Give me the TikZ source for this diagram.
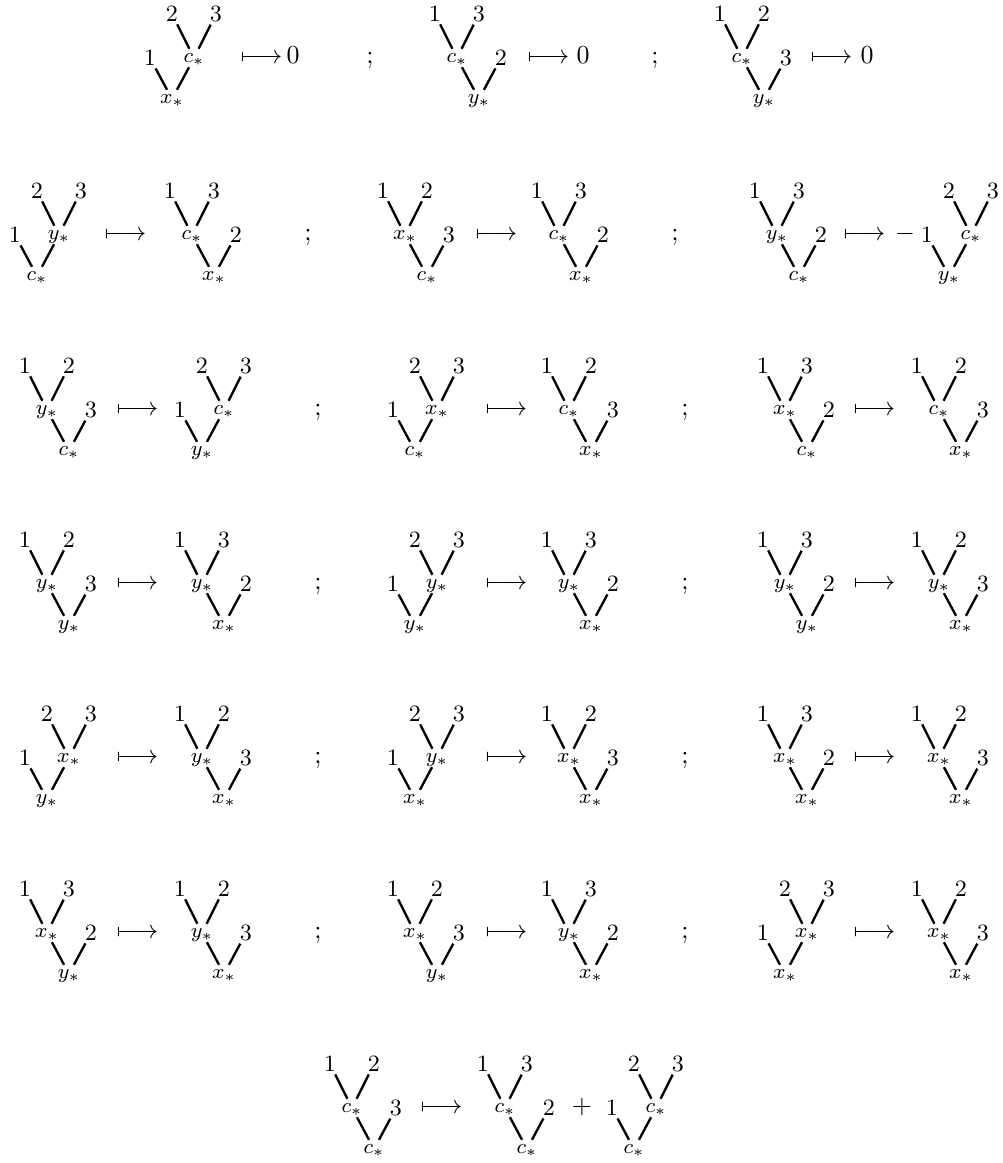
\documentclass[tikz,border=0pt]{standalone}
\usepackage{amsmath,amssymb}
\usepackage{tikz}

\tikzset{
  leaf/.style={font=\small, inner sep=0.8pt},
  vert/.style={font=\footnotesize, inner sep=0.6pt, text height=4.5pt, text depth=1pt},
  edge/.style={line width=0.9pt},
  sym/.style={anchor=mid, inner sep=0pt},
  arr/.style={anchor=mid west, inner sep=0pt}
}

% comb: side leaf #4, vertex #7 carrying leaves #5 #6, root #8
\newcommand{\lcomb}[8]{%
  \node[leaf] (#1a) at (#2,#3) {#4};
  \node[vert] (#1u) at (#2+44,#3) {$#7$};
  \node[leaf] (#1b) at (#2+22,#3-44) {#5};
  \node[leaf] (#1c) at (#2+66,#3-44) {#6};
  \node[vert] (#1r) at (#2+22,#3+41) {$#8$};
  \draw[edge] (#1b) -- (#1u) -- (#1c);
  \draw[edge] (#1a) -- (#1r) -- (#1u);
}
% comb: vertex #7 carrying leaves #4 #5, side leaf #6, root #8
\newcommand{\rcomb}[8]{%
  \node[vert] (#1u) at (#2+22,#3) {$#7$};
  \node[leaf] (#1a) at (#2,#3-44) {#4};
  \node[leaf] (#1b) at (#2+44,#3-44) {#5};
  \node[leaf] (#1c) at (#2+66,#3) {#6};
  \node[vert] (#1r) at (#2+44,#3+41) {$#8$};
  \draw[edge] (#1a) -- (#1u) -- (#1b);
  \draw[edge] (#1u) -- (#1r) -- (#1c);
}

\begin{document}
\begin{tikzpicture}[x=0.385pt, y=-0.385pt]
\useasboundingbox (0,0) rectangle (1003,1163);

% Row 1: trees sent to zero
\lcomb{p1}{150}{58}{1}{2}{3}{c_*}{x_*}
\node[arr] (pa1) at (240,58) {$\longmapsto$};
\node[sym] (pz1) at (293,58) {$0$};
\node[sym] (ps1) at (370,58) {$;$};
\rcomb{p2}{435}{58}{1}{3}{2}{c_*}{y_*}
\node[arr] (pa2) at (527,58) {$\longmapsto$};
\node[sym] (pz2) at (583,58) {$0$};
\node[sym] (ps2) at (655,58) {$;$};
\rcomb{p3}{720}{58}{1}{2}{3}{c_*}{y_*}
\node[arr] (pa3) at (810,58) {$\longmapsto$};
\node[sym] (pz3) at (867,58) {$0$};

% Row 2
\lcomb{q1}{15}{235}{1}{2}{3}{y_*}{c_*}
\node[arr] (qa1) at (104,235) {$\longmapsto$};
\rcomb{q2}{170}{235}{1}{3}{2}{c_*}{x_*}
\node[sym] (qs1) at (308,235) {$;$};
\rcomb{q3}{383}{235}{1}{2}{3}{x_*}{c_*}
\node[arr] (qa2) at (475,235) {$\longmapsto$};
\rcomb{q4}{537}{235}{1}{3}{2}{c_*}{x_*}
\node[sym] (qs2) at (675,235) {$;$};
\rcomb{q5}{755}{235}{1}{3}{2}{y_*}{c_*}
\node[arr] (qa3) at (843,235) {$\longmapsto$};
\node[sym] (qm) at (905,235) {$-$};
\lcomb{q6}{927}{235}{1}{2}{3}{c_*}{y_*}

% Rows 3 to 6: arrows and separators
\foreach \m in {410,584,758,933}{
  \node[arr] (al\m) at (116,\m) {$\longmapsto$};
  \node[sym] (sl\m) at (318,\m) {$;$};
  \node[arr] (am\m) at (485,\m) {$\longmapsto$};
  \node[sym] (sr\m) at (685,\m) {$;$};
  \node[arr] (ar\m) at (853,\m) {$\longmapsto$};
}

% Row 3
\rcomb{r1}{25}{410}{1}{2}{3}{y_*}{c_*}
\lcomb{r2}{180}{410}{1}{2}{3}{c_*}{y_*}
\lcomb{r3}{393}{410}{1}{2}{3}{x_*}{c_*}
\rcomb{r4}{547}{410}{1}{2}{3}{c_*}{x_*}
\rcomb{r5}{763}{410}{1}{3}{2}{x_*}{c_*}
\rcomb{r6}{917}{410}{1}{2}{3}{c_*}{x_*}

% Row 4
\rcomb{s1}{25}{584}{1}{2}{3}{y_*}{y_*}
\rcomb{s2}{180}{584}{1}{3}{2}{y_*}{x_*}
\lcomb{s3}{393}{584}{1}{2}{3}{y_*}{y_*}
\rcomb{s4}{547}{584}{1}{3}{2}{y_*}{x_*}
\rcomb{s5}{763}{584}{1}{3}{2}{y_*}{y_*}
\rcomb{s6}{917}{584}{1}{2}{3}{y_*}{x_*}

% Row 5
\lcomb{t1}{25}{758}{1}{2}{3}{x_*}{y_*}
\rcomb{t2}{180}{758}{1}{2}{3}{y_*}{x_*}
\lcomb{t3}{393}{758}{1}{2}{3}{y_*}{x_*}
\rcomb{t4}{547}{758}{1}{2}{3}{x_*}{x_*}
\rcomb{t5}{763}{758}{1}{3}{2}{x_*}{x_*}
\rcomb{t6}{917}{758}{1}{2}{3}{x_*}{x_*}

% Row 6
\rcomb{u1}{25}{933}{1}{3}{2}{x_*}{y_*}
\rcomb{u2}{180}{933}{1}{2}{3}{y_*}{x_*}
\rcomb{u3}{393}{933}{1}{2}{3}{x_*}{y_*}
\rcomb{u4}{547}{933}{1}{3}{2}{y_*}{x_*}
\lcomb{u5}{763}{933}{1}{2}{3}{x_*}{x_*}
\rcomb{u6}{917}{933}{1}{2}{3}{x_*}{x_*}

% Row 7
\rcomb{v1}{330}{1108}{1}{2}{3}{c_*}{c_*}
\node[arr] (va) at (420,1108) {$\longmapsto$};
\rcomb{v2}{483}{1108}{1}{3}{2}{c_*}{c_*}
\node[sym] (vp) at (582,1108) {$+$};
\lcomb{v3}{612}{1108}{1}{2}{3}{c_*}{c_*}
\end{tikzpicture}
\end{document}
